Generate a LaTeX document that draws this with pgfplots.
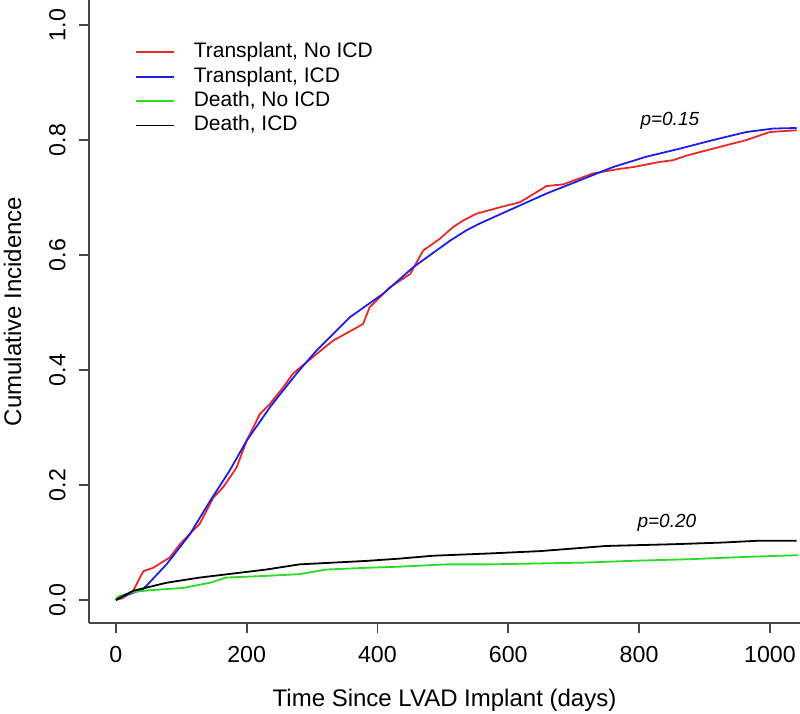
\documentclass[border=0pt]{standalone}
\usepackage{fontspec}
\setmainfont{Liberation Sans}
\usepackage{pgfplots}
\pgfplotsset{compat=1.18}
\definecolor{rred}{RGB}{235,40,40}
\definecolor{rblue}{RGB}{30,30,230}
\definecolor{rgreen}{RGB}{40,220,40}
\definecolor{axgray}{RGB}{70,70,70}
\begin{document}
\begin{tikzpicture}
\begin{axis}[
  at={(0,0)}, anchor=south west,
  scale only axis, width=355.5pt, height=311.5pt,
  xmin=-41, xmax=1046, ymin=-0.04, ymax=1.0436,
  axis lines*=left,
  axis line style={axgray, line width=0.9pt},
  every tick/.style={axgray, line width=0.9pt},
  tick align=outside, major tick length=5pt,
  xtick={0,200,400,600,800,1000},
  xticklabels={0,200,400,600,800,1000},
  ytick={0,0.2,0.4,0.6,0.8,1.0},
  yticklabels={0.0,0.2,0.4,0.6,0.8,1.0},
  /pgf/number format/assume math mode=true,
  /pgf/number format/1000 sep={},
  tick label style={font=\fontsize{11.6}{13}\selectfont},
  xticklabel style={yshift=-3pt},
  yticklabel style={rotate=90, anchor=south, inner sep=0pt, yshift=6.5pt},
  xlabel={Time Since LVAD Implant (days)},
  ylabel={Cumulative Incidence},
  label style={font=\fontsize{12}{14}\selectfont},
  xlabel style={at={(axis description cs:0.5,-0.1348)}, anchor=base},
  ylabel style={at={(axis description cs:-0.0956,0.5)}, anchor=base, rotate=0},
  legend style={draw=none, fill=none, at={(axis description cs:0.0647,0.9316)}, anchor=north west,
    inner sep=0pt, outer sep=0pt, row sep=2.5pt, column sep=0pt,
    font=\fontsize{10.5}{12}\selectfont,
    nodes={inner sep=0pt, text height=7.5pt, text depth=2.2pt}},
  legend cell align=left,
  legend image code/.code={\draw[#1] (0pt,0pt) -- (19pt,0pt); \path (28.5pt,0pt);},
  clip=true,
]
\addplot[rred, line width=0.9pt] table {
0 0
10 0.003
26.5 0.016
42 0.05
57 0.056
82.6 0.074
98 0.097
113 0.115
128 0.132
149 0.178
164 0.196
184.5 0.23
200 0.277
220 0.323
235.5 0.341
256 0.37
271 0.394
307 0.428
332 0.451
378 0.48
388 0.509
419 0.544
450 0.567
470 0.608
495 0.628
516 0.649
531 0.66
551.5 0.672
587 0.683
618 0.692
658.5 0.72
684 0.723
730 0.742
770.6 0.75
791 0.753
832 0.762
852 0.765
872.6 0.773
913 0.785
964 0.80
1000 0.814
1041 0.817
};
\addlegendentry{Transplant, No ICD}
\addplot[rblue, line width=0.9pt] table {
0 0
6 0.004
42 0.019
77.5 0.062
113 0.114
144 0.172
174 0.225
200 0.277
235.5 0.335
245.7 0.35
280 0.399
307 0.434
358 0.492
409 0.533
455 0.579
511 0.625
536 0.643
556.6 0.655
582 0.668
607.5 0.681
658.5 0.707
709.5 0.73
760 0.753
811 0.771
862 0.785
913 0.80
964 0.814
1005 0.82
1041 0.821
};
\addlegendentry{Transplant, ICD}
\addplot[rgreen, line width=0.9pt] table {
0 0
3 0.006
26.5 0.014
52 0.017
103 0.021
144 0.030
169 0.039
230 0.042
281 0.045
322 0.053
383 0.056
434 0.058
506 0.062
572 0.062
714.5 0.065
786 0.068
878 0.071
964 0.075
1043 0.078
};
\addlegendentry{Death, No ICD}
\addplot[black, line width=0.9pt] table {
0 0
26.5 0.016
77.5 0.030
128 0.039
179 0.046
230 0.053
281 0.062
332 0.065
383 0.068
434 0.072
485 0.077
572 0.081
648 0.085
750 0.094
852 0.097
929 0.100
980 0.103
1041 0.103
};
\addlegendentry{Death, ICD}
\node[font=\fontsize{9.5}{11}\selectfont\itshape] at (axis cs:847,0.833) {p=0.15};
\node[font=\fontsize{9.5}{11}\selectfont\itshape] at (axis cs:842.5,0.134) {p=0.20};
\end{axis}
\pgfresetboundingbox
\path (-44.5pt,-45.5pt) rectangle (355.5pt,311.5pt);
\end{tikzpicture}
\end{document}
